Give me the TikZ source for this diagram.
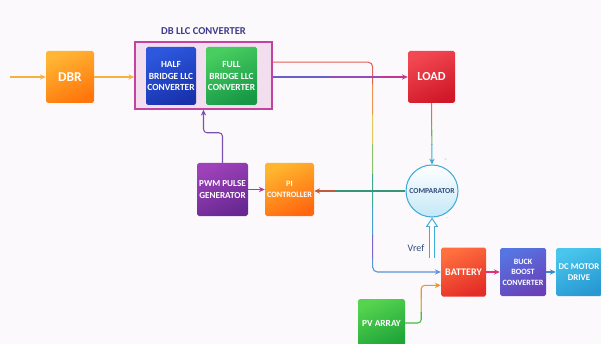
\documentclass[tikz,border=0pt]{standalone}
\usepackage{fontspec}
\setmainfont{Carlito}
\usepackage{tikz}
\usetikzlibrary{arrows.meta,positioning,calc}

\definecolor{paper}{RGB}{252,249,252}
\definecolor{dbrA}{RGB}{255,182,52}
\definecolor{dbrB}{RGB}{255,118,12}
\definecolor{halfA}{RGB}{45,88,222}
\definecolor{halfB}{RGB}{25,50,172}
\definecolor{fullA}{RGB}{72,206,96}
\definecolor{fullB}{RGB}{22,152,70}
\definecolor{loadA}{RGB}{242,72,82}
\definecolor{loadB}{RGB}{208,24,40}
\definecolor{piA}{RGB}{255,182,46}
\definecolor{piB}{RGB}{255,104,16}
\definecolor{pwmA}{RGB}{158,66,186}
\definecolor{pwmB}{RGB}{104,40,146}
\definecolor{batA}{RGB}{255,112,62}
\definecolor{batB}{RGB}{228,44,40}
\definecolor{buckA}{RGB}{86,116,226}
\definecolor{buckB}{RGB}{106,64,184}
\definecolor{motorA}{RGB}{72,198,236}
\definecolor{motorB}{RGB}{40,152,210}
\definecolor{pvA}{RGB}{86,212,80}
\definecolor{pvB}{RGB}{30,164,56}
\definecolor{llcedge}{RGB}{196,66,160}
\definecolor{llcfill}{RGB}{243,222,240}
\definecolor{compedge}{RGB}{66,170,216}
\definecolor{compfill}{RGB}{196,232,248}
\definecolor{titleink}{RGB}{62,60,140}
\definecolor{compink}{RGB}{46,76,126}
% wire colours
\definecolor{rail1}{RGB}{226,98,80}
\definecolor{rail2}{RGB}{238,150,80}
\definecolor{rail3}{RGB}{228,200,90}
\definecolor{rail4}{RGB}{140,195,100}
\definecolor{rail5}{RGB}{60,170,140}
\definecolor{rail6}{RGB}{70,160,210}
\definecolor{rail7}{RGB}{125,100,200}
\definecolor{rail8}{RGB}{90,145,215}
\definecolor{loadw1}{RGB}{230,110,70}
\definecolor{loadw2}{RGB}{110,180,100}
\definecolor{loadw3}{RGB}{60,170,215}
\definecolor{fbw1}{RGB}{190,92,62}
\definecolor{fbw2}{RGB}{55,150,120}
\definecolor{outw1}{RGB}{105,95,200}
\definecolor{outw2}{RGB}{150,75,185}
\definecolor{outw3}{RGB}{195,55,145}
\definecolor{pvw1}{RGB}{240,145,50}
\definecolor{pvw2}{RGB}{190,190,60}
\definecolor{pvw3}{RGB}{70,185,70}
\definecolor{inw}{RGB}{245,178,64}
\definecolor{pwmw}{RGB}{122,80,176}
\definecolor{gatew}{RGB}{176,58,144}
\definecolor{batw}{RGB}{224,48,122}
\definecolor{motw}{RGB}{58,136,208}

\tikzset{
  blk/.style={rounded corners=1.5pt, text=white, align=center, inner sep=0pt, font=\bfseries\fontsize{8}{9.5}\selectfont},
  grad/.style 2 args={top color=#1, bottom color=#2, shading angle=25},
  boxsize/.style 2 args={minimum width=#1*0.3mm, minimum height=#2*0.3mm},
  comp/.style={circle, draw=compedge, line width=0.9pt, top color=white, bottom color=compfill, minimum size=52*0.3mm, inner sep=0pt, text=compink, font=\bfseries\fontsize{6.5}{7}\selectfont},
  wire/.style={line width=0.9pt, -{Stealth[length=5pt,width=4.5pt]}},
  vrefout/.style={draw=compedge, line width=4.4pt, -{Triangle[length=8pt,width=10pt]}},
  vrefin/.style={draw=white, line width=2.8pt, shorten >=1.6pt, -{Triangle[length=5.6pt,width=6.6pt]}},
  signtxt/.style={text=gray!60, font=\fontsize{6}{6}\selectfont, inner sep=0pt}
}

\begin{document}
\begin{tikzpicture}[x=0.3mm, y=-0.3mm]
  \fill[paper] (0,0) rectangle (601,344);
  \useasboundingbox (0,0) rectangle (601,344);
  \clip (0,0) rectangle (601,344);

  % blocks
  \node[blk, grad={dbrA}{dbrB}, boxsize={48}{52}, font=\bfseries\fontsize{11.5}{12}\selectfont] (dbr) at (70,77) {DBR};
  \node[draw=llcedge, fill=llcfill, line width=1.2pt, boxsize={137}{67},
        label={[text=titleink, font=\bfseries\fontsize{9}{10}\selectfont, label distance=2.5pt]above:DB LLC CONVERTER}] (llc) at (203.5,75.5) {};
  \node[blk, grad={halfA}{halfB}, boxsize={50}{58}] (half) at (171,76) {HALF\\BRIDGE LLC\\CONVERTER};
  \node[blk, grad={fullA}{fullB}, boxsize={51}{58}] (full) at (231.5,76) {FULL\\BRIDGE LLC\\CONVERTER};
  \node[blk, grad={loadA}{loadB}, boxsize={47}{52}, font=\bfseries\fontsize{10.5}{12}\selectfont] (load) at (431.5,77) {LOAD};
  \node[comp, label={[signtxt, label distance=4pt]68:--}, label={[signtxt, label distance=3pt]-62:.}] (comp) at (432,191) {COMPARATOR};
  \node[blk, grad={piA}{piB}, boxsize={49}{53}, font=\bfseries\fontsize{7}{10}\selectfont] (pi) at (289.5,189.5) {PI\\CONTROLLER};
  \node[blk, grad={pwmA}{pwmB}, boxsize={51}{53}, font=\bfseries\fontsize{7.8}{11}\selectfont] (pwm) at (222.5,189.5) {PWM PULSE\\GENERATOR};
  \node[blk, grad={batA}{batB}, boxsize={45}{49}, font=\bfseries\fontsize{8.6}{10}\selectfont] (battery) at (463.5,272) {BATTERY};
  \node[blk, grad={buckA}{buckB}, boxsize={46}{48}, font=\bfseries\fontsize{6.9}{9}\selectfont] (buck) at (523,272) {BUCK\\BOOST\\CONVERTER};
  \node[blk, grad={motorA}{motorB}, boxsize={46}{48}, font=\bfseries\fontsize{7.5}{9.5}\selectfont] (motor) at (579,272) {DC MOTOR\\DRIVE};
  \node[blk, grad={pvA}{pvB}, boxsize={47}{48}, font=\bfseries\fontsize{8}{10}\selectfont] (pv) at (381.5,323) {PV ARRAY};
  \node[text=compink, font=\fontsize{8.5}{9}\selectfont, inner sep=0pt] (vreftxt) at (416,248) {Vref};

  \coordinate (src) at (10,77);
  \coordinate (vref) at (432,258);

  % converter to battery
  \foreach \ya/\yb/\c in {30/85/rail1, 85/115/rail2, 115/145/rail3, 145/175/rail4, 175/205/rail5, 205/235/rail6, 235/258/rail7, 258/300/rail8}{
    \begin{scope}
      \clip (270,\ya) rectangle (445,\yb);
      \draw[wire, \c, rounded corners=4pt] ([yshift=4mm]llc.east) -- ++(100,0) |- (battery.west);
    \end{scope}
  }
  % load to comparator
  \foreach \ya/\yb/\c in {100/125/loadw1, 125/145/loadw2, 145/170/loadw3}{
    \begin{scope}
      \clip (420,\ya) rectangle (445,\yb);
      \draw[wire, \c] (load.south) -- (comp.north);
    \end{scope}
  }
  % converter to load
  \foreach \xa/\xb/\c in {270/330/outw1, 330/380/outw2, 380/410/outw3}{
    \begin{scope}
      \clip (\xa,70) rectangle (\xb,85);
      \draw[wire, \c] (llc.east |- load.west) -- (load.west);
    \end{scope}
  }
  % comparator to pi
  \foreach \xa/\xb/\c in {310/336/fbw1, 336/410/fbw2}{
    \begin{scope}
      \clip (\xa,180) rectangle (\xb,200);
      \draw[wire, \c] (comp.west) -- (comp.west -| pi.east);
    \end{scope}
  }
  % pv to battery
  \foreach \ya/\yb/\c in {278/298/pvw1, 298/312/pvw2, 312/340/pvw3}{
    \begin{scope}
      \clip (400,\ya) rectangle (445,\yb);
      \draw[wire, \c, rounded corners=3pt] (pv.east) -- ++(16,0) |- ([yshift=-4mm]battery.west);
    \end{scope}
  }

  \draw[wire, inw] (src) -- (dbr.west);
  \draw[wire, inw] (dbr.east) -- (dbr.east -| llc.west);
  \draw[wire, gatew] (pwm.east) -- (pi.west);
  \draw[wire, pwmw, rounded corners=3pt] (pwm.north) -- ++(0,-30) -| (llc.south);
  \draw[wire, batw] (battery.east) -- (buck.west);
  \draw[wire, motw] (buck.east) -- (motor.west);
  % reference input
  \draw[vrefout] (vref) -- (comp.south);
  \draw[vrefin] (vref) -- (comp.south);
\end{tikzpicture}
\end{document}
